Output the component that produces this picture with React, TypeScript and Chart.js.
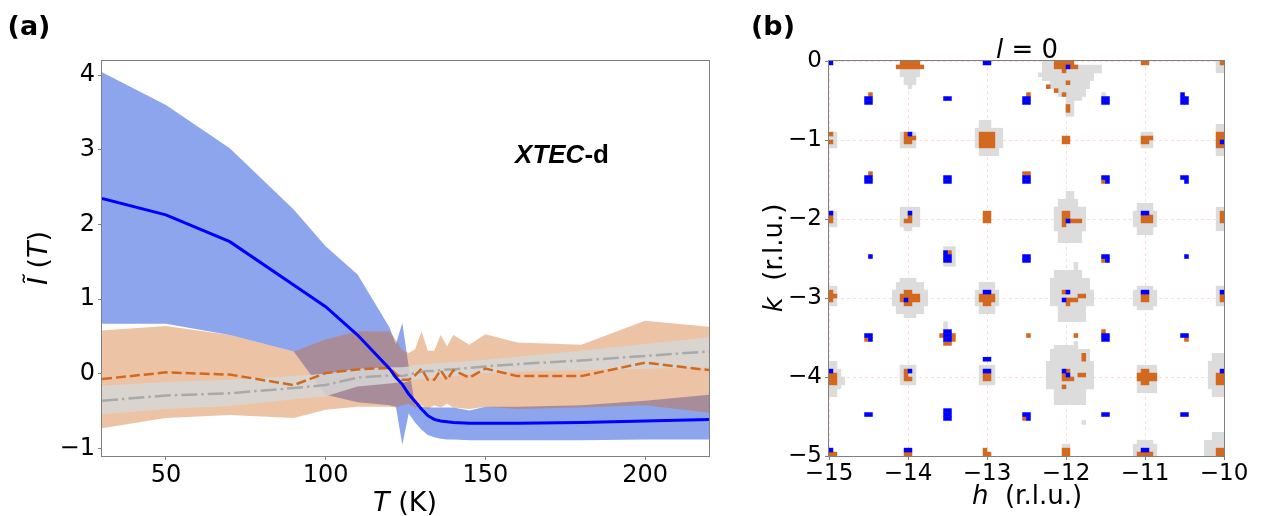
import React, { useEffect, useRef } from 'react';
import { Chart, registerables } from 'chart.js';

Chart.register(...registerables);

// ---------- Panel (a) data ----------
const T_K = [30, 50, 70, 90, 100, 110, 120, 122, 124, 126, 128, 130, 132, 134, 136, 138, 140, 145, 150, 160, 180, 200, 220];

const BLUE_MEAN = [2.35, 2.13, 1.77, 1.19, 0.9, 0.52, 0.07, -0.05, -0.14, -0.27, -0.37, -0.47, -0.56, -0.61, -0.63, -0.64, -0.65, -0.66, -0.66, -0.66, -0.65, -0.63, -0.61];
const BLUE_UPPER = [4.04, 3.6, 3.02, 2.2, 1.71, 1.33, 0.62, 0.4, 0.68, 0.1, -0.42, -0.44, -0.45, -0.45, -0.45, -0.45, -0.45, -0.49, -0.44, -0.44, -0.42, -0.36, -0.28];
const BLUE_LOWER = [0.67, 0.67, 0.52, 0.3, -0.28, -0.38, -0.42, -0.44, -0.95, -0.53, -0.65, -0.75, -0.82, -0.85, -0.87, -0.88, -0.88, -0.89, -0.89, -0.89, -0.89, -0.88, -0.88];

const ORANGE_MEAN = [-0.07, 0.02, -0.01, -0.15, 0.01, 0.06, 0.08, 0.0, -0.08, -0.08, -0.02, 0.07, -0.08, -0.08, 0.05, -0.08, 0.05, -0.05, 0.07, -0.03, -0.03, 0.15, 0.05];
const ORANGE_UPPER = [0.58, 0.64, 0.52, 0.3, 0.46, 0.57, 0.57, 0.45, 0.32, 0.28, 0.33, 0.57, 0.31, 0.31, 0.52, 0.37, 0.52, 0.39, 0.53, 0.42, 0.39, 0.71, 0.63];
const ORANGE_LOWER = [-0.73, -0.59, -0.55, -0.59, -0.48, -0.44, -0.44, -0.45, -0.42, -0.4, -0.45, -0.42, -0.47, -0.42, -0.45, -0.4, -0.45, -0.47, -0.44, -0.47, -0.45, -0.42, -0.52];

const GRAY_MEAN = [-0.36, -0.29, -0.26, -0.19, -0.15, -0.05, -0.02, -0.02, -0.03, -0.01, 0.01, 0.03, 0.04, 0.04, 0.05, 0.06, 0.06, 0.08, 0.1, 0.13, 0.18, 0.24, 0.3];
const GRAY_UPPER = [-0.16, -0.11, -0.08, -0.03, 0.0, 0.07, 0.09, 0.09, 0.09, 0.1, 0.12, 0.13, 0.13, 0.14, 0.15, 0.15, 0.16, 0.17, 0.19, 0.23, 0.31, 0.4, 0.49];
const GRAY_LOWER = [-0.54, -0.47, -0.43, -0.34, -0.3, -0.17, -0.13, -0.12, -0.12, -0.1, -0.08, -0.07, -0.06, -0.05, -0.04, -0.03, -0.03, -0.01, 0.01, 0.03, 0.05, 0.07, 0.09];

const X_TICKS_A = [50, 100, 150, 200];
const Y_TICKS_A = [-1, 0, 1, 2, 3, 4];

// ---------- Panel (b) data: cell blocks [h0, h1, kTop, kBottom] in r.l.u. ----------
const BLUE_CELLS = [
  [-15, -14.95, 0, -0.05], [-13.05, -12.95, 0, -0.05], [-12, -11.95, -0.05, -0.1],
  [-14.55, -14.45, -0.45, -0.55], [-13.55, -13.45, -0.45, -0.5], [-12.55, -12.45, -0.45, -0.55],
  [-11.55, -11.45, -0.45, -0.55], [-10.55, -10.5, -0.4, -0.55], [-10.5, -10.45, -0.45, -0.55],
  [-14, -13.95, -0.9, -0.95], [-10.05, -10, -1, -1.05],
  [-14.55, -14.45, -1.45, -1.55], [-13.55, -13.45, -1.45, -1.55], [-12.55, -12.45, -1.45, -1.55],
  [-11.55, -11.45, -1.45, -1.5], [-11.5, -11.45, -1.5, -1.55], [-10.55, -10.45, -1.45, -1.5], [-10.5, -10.45, -1.5, -1.55],
  [-15, -14.95, -1.9, -1.95], [-14, -13.95, -1.9, -1.95], [-12, -11.95, -2, -2.05], [-11.05, -10.95, -1.9, -1.95],
  [-14.5, -14.45, -2.45, -2.5], [-13.55, -13.5, -2.4, -2.45], [-13.55, -13.45, -2.45, -2.55],
  [-12.55, -12.45, -2.45, -2.55], [-11.55, -11.45, -2.45, -2.5], [-11.5, -11.45, -2.5, -2.55], [-10.5, -10.45, -2.45, -2.5],
  [-14.05, -14, -3, -3.05], [-13.05, -12.95, -2.9, -2.95], [-12, -11.95, -2.9, -2.95], [-12.05, -12, -3, -3.05],
  [-11.05, -10.95, -2.9, -2.95], [-10.05, -10, -2.9, -2.95],
  [-14.55, -14.45, -3.45, -3.5], [-14.5, -14.45, -3.5, -3.55], [-13.55, -13.45, -3.4, -3.55],
  [-11.55, -11.45, -3.45, -3.55], [-10.55, -10.45, -3.45, -3.5], [-13.05, -12.95, -3.75, -3.8],
  [-15, -14.95, -3.9, -3.95], [-14, -13.95, -3.9, -3.95], [-13.05, -12.95, -3.9, -3.95],
  [-12.05, -12, -3.9, -3.95], [-12, -11.95, -3.95, -4], [-10.05, -10, -3.9, -3.95],
  [-14.55, -14.45, -4.45, -4.5], [-13.55, -13.45, -4.4, -4.55], [-12.55, -12.45, -4.45, -4.5], [-12.5, -12.45, -4.5, -4.55],
  [-11.55, -11.45, -4.45, -4.5], [-10.55, -10.45, -4.45, -4.5],
  [-15, -14.95, -4.9, -4.95], [-14.05, -13.95, -4.9, -4.95], [-11.05, -10.95, -4.9, -4.95],
];

const ORANGE_CELLS = [
  [-14.1, -13.85, 0, -0.05], [-14.15, -13.8, -0.05, -0.1],
  [-12.15, -11.9, 0, -0.05], [-12.15, -12, -0.05, -0.1], [-11.95, -11.85, -0.05, -0.1], [-12.05, -12, -0.1, -0.15],
  [-12, -11.95, -0.25, -0.3], [-12.25, -12.2, -0.3, -0.35], [-12.15, -12.1, -0.35, -0.4], [-12.05, -12, -0.4, -0.45],
  [-12, -11.95, -0.55, -0.65], [-11.05, -10.95, 0, -0.05], [-10.05, -10, 0, -0.05],
  [-14.5, -14.45, -0.4, -0.45], [-12.5, -12.45, -0.4, -0.45],
  [-15, -14.95, -0.9, -0.95], [-15, -14.95, -1, -1.05],
  [-14.05, -14, -0.9, -0.95], [-14.05, -13.9, -0.95, -1], [-14.05, -13.95, -1, -1.05],
  [-13.1, -12.9, -0.9, -1.1], [-12.05, -11.95, -0.95, -1.05],
  [-11.05, -10.9, -0.95, -1], [-11.05, -10.95, -1, -1.05], [-10.1, -10, -0.9, -1.1],
  [-14.5, -14.45, -1.4, -1.45], [-12.55, -12.45, -1.4, -1.45], [-11.55, -11.5, -1.5, -1.55],
  [-15, -14.95, -1.95, -2.05], [-14, -13.95, -1.95, -2.05], [-14.05, -14, -2, -2.05],
  [-13.05, -12.95, -1.9, -2.05], [-12.05, -11.95, -1.9, -2.05], [-12.05, -12, -2.05, -2.1], [-11.95, -11.8, -2, -2.05],
  [-11.05, -10.9, -1.95, -2.05], [-10.05, -10, -1.9, -2.05],
  [-13.5, -13.45, -2.4, -2.45], [-11.55, -11.5, -2.5, -2.55],
  [-15, -14.95, -2.9, -3.05], [-14.95, -14.9, -2.95, -3],
  [-14.05, -13.95, -2.9, -2.95], [-14.1, -13.85, -2.95, -3.05], [-14.05, -13.95, -3.05, -3.1],
  [-13.1, -12.9, -2.95, -3.05], [-13.05, -12.95, -3.05, -3.1],
  [-12.05, -12, -2.9, -2.95], [-12, -11.85, -3, -3.05], [-11.85, -11.75, -2.95, -3], [-12, -11.95, -3.05, -3.1],
  [-11.05, -10.95, -2.95, -3.05], [-10.05, -10, -2.95, -3.05],
  [-14.55, -14.5, -3.5, -3.55], [-13.6, -13.55, -3.45, -3.5], [-13.45, -13.4, -3.45, -3.55], [-13.55, -13.45, -3.55, -3.6],
  [-12.5, -12.45, -3.45, -3.5], [-11.9, -11.85, -3.45, -3.5], [-11.55, -11.5, -3.4, -3.45], [-10.5, -10.45, -3.5, -3.55],
  [-11.8, -11.75, -3.7, -3.8],
  [-15, -14.9, -3.95, -4.1], [-14.05, -14, -3.9, -4.05], [-14, -13.95, -4, -4.05], [-13.05, -12.95, -3.95, -4.05],
  [-12, -11.95, -3.9, -3.95], [-12.05, -12, -3.95, -4], [-12.05, -11.9, -4, -4.05], [-11.85, -11.75, -3.95, -4], [-12.05, -12, -4.1, -4.15],
  [-11.1, -10.85, -3.95, -4.05], [-11.05, -10.95, -3.9, -4.1], [-10.1, -10, -3.95, -4.1],
  [-12.55, -12.5, -4.5, -4.55],
  [-15, -14.9, -4.95, -5], [-14.05, -13.95, -4.95, -5], [-13.05, -13, -4.9, -5], [-13, -12.95, -4.95, -5],
  [-12.05, -11.95, -4.9, -5], [-11.1, -10.9, -4.95, -5], [-10.1, -10, -4.9, -5],
];

const GRAY_CELLS = [
  [-14.1, -13.85, -0.1, -0.2], [-14.05, -13.9, -0.2, -0.3], [-14, -13.95, -0.3, -0.35],
  [-12.3, -12.15, 0, -0.05], [-12.3, -11.55, -0.05, -0.15], [-12.35, -11.65, -0.15, -0.2], [-12.3, -11.65, -0.2, -0.25],
  [-12.2, -11.7, -0.25, -0.35], [-12.1, -11.75, -0.35, -0.45], [-12, -11.8, -0.45, -0.5], [-12, -11.9, -0.5, -0.7],
  [-10.1, -10, 0, -0.15], [-11.55, -11.5, -0.4, -0.45],
  [-15, -14.9, -0.9, -1.1], [-14.1, -13.9, -0.9, -1.1],
  [-13.1, -12.95, -0.75, -0.85], [-13.15, -12.8, -0.85, -1.1], [-13.1, -12.85, -1.1, -1.2],
  [-11.05, -10.9, -0.9, -1.1], [-10.1, -10, -0.8, -1.2],
  [-15, -14.9, -1.9, -2.1], [-14.1, -13.85, -1.85, -2.1], [-14.05, -13.95, -2.1, -2.15],
  [-12, -11.9, -1.65, -1.75], [-12.1, -11.85, -1.75, -1.85], [-12.15, -11.75, -1.85, -2.15], [-12.1, -11.8, -2.15, -2.3],
  [-11.1, -10.9, -1.8, -1.9], [-11.15, -10.85, -1.9, -2.1], [-11.1, -10.9, -2.1, -2.2],
  [-10.1, -10, -1.85, -2.15], [-13.55, -13.4, -2.35, -2.6],
  [-15, -14.9, -2.85, -3.1],
  [-14.1, -13.9, -2.75, -2.8], [-14.15, -13.8, -2.8, -2.9], [-14.2, -13.75, -2.9, -3.1], [-14.15, -13.8, -3.1, -3.2], [-14.05, -13.9, -3.2, -3.25],
  [-13.1, -12.9, -2.8, -2.9], [-13.15, -12.85, -2.9, -3.1], [-13.1, -12.9, -3.1, -3.2],
  [-11.9, -11.85, -2.55, -2.65], [-12.15, -11.8, -2.65, -2.75], [-12.2, -11.7, -2.75, -2.9], [-12.2, -11.65, -2.9, -3.1], [-12.1, -11.75, -3.1, -3.3],
  [-11.1, -10.9, -2.85, -2.9], [-11.15, -10.85, -2.9, -3.1], [-11.1, -10.9, -3.1, -3.15],
  [-10.1, -10, -2.85, -3.1], [-13.55, -13.5, -3.3, -3.4],
  [-15, -14.9, -3.8, -4.25], [-14.9, -14.85, -3.9, -4.15], [-14.85, -14.8, -4, -4.1],
  [-14.1, -13.9, -3.85, -4.1], [-13.1, -12.9, -3.85, -4.1],
  [-11.9, -11.85, -3.55, -3.6], [-12.15, -11.85, -3.6, -3.65], [-12.2, -11.7, -3.65, -3.8], [-12.25, -11.65, -3.8, -4.15], [-12.15, -11.75, -4.15, -4.35],
  [-11.1, -10.85, -3.85, -4.2],
  [-10.15, -10, -3.7, -3.8], [-10.2, -10, -3.8, -4.15], [-10.15, -10, -4.15, -4.25],
  [-11.8, -11.75, -4.55, -4.6], [-12.05, -11.95, -4.85, -4.9],
  [-11.1, -10.9, -4.8, -4.85], [-11.15, -10.85, -4.85, -5],
  [-10.15, -10, -4.7, -4.8], [-10.25, -10, -4.8, -5],
];

const X_TICKS_B = [-15, -14, -13, -12, -11, -10];
const Y_TICKS_B = [-5, -4, -3, -2, -1, 0];

const CELL = 0.05;
const FONT = '"DejaVu Sans", sans-serif';
const SPINE = '#808080';

function fmt(v: number) {
  return v < 0 ? '\u2212' + String(Math.abs(v)) : String(v);
}

function pts(ys: number[]) {
  return T_K.map((t, i) => ({ x: t, y: ys[i] }));
}

// one floating bar per cell row of each block
function rows(blocks: number[][]) {
  const out: { x: number[]; y: number }[] = [];
  for (const [h0, h1, k0, k1] of blocks) {
    const n = Math.round((k0 - k1) / CELL);
    for (let i = 0; i < n; i++) {
      out.push({ x: [h0, h1], y: Math.round((k0 - CELL / 2 - CELL * i) * 1000) / 1000 });
    }
  }
  return out;
}

const framePlugin = {
  id: 'frame',
  afterDatasetsDraw(chart: any) {
    const { ctx, chartArea: a } = chart;
    ctx.save();
    ctx.strokeStyle = SPINE;
    ctx.lineWidth = 1;
    ctx.setLineDash([]);
    ctx.strokeRect(a.left - 0.5, a.top - 0.5, a.right - a.left + 1, a.bottom - a.top + 1);
    ctx.restore();
  },
};

const Label = ({ x, y, size, rotate, bold, family, children }: any) => (
  <div
    style={{
      position: 'absolute',
      left: x,
      top: y,
      transform: `translate(-50%, -50%)${rotate ? ' rotate(-90deg)' : ''}`,
      fontFamily: family || FONT,
      fontSize: size,
      fontWeight: bold ? 'bold' : 'normal',
      lineHeight: 1,
      whiteSpace: 'pre',
      color: '#000',
    }}
  >
    {children}
  </div>
);

export default function App() {
  const refA = useRef<HTMLCanvasElement>(null);
  const refB = useRef<HTMLCanvasElement>(null);

  useEffect(() => {
    const band = (ys: number[], color: string, target: number, order: number) => ({
      data: pts(ys),
      borderColor: 'rgba(0,0,0,0)',
      borderWidth: 0,
      backgroundColor: color,
      pointRadius: 0,
      fill: target,
      order,
    });
    const edge = (ys: number[], order: number) => ({
      data: pts(ys),
      borderColor: 'rgba(0,0,0,0)',
      borderWidth: 0,
      pointRadius: 0,
      fill: false,
      order,
    });

    const chartA = new Chart(refA.current as HTMLCanvasElement, {
      type: 'line',
      data: {
        datasets: [
          band(BLUE_UPPER, 'rgba(65,105,225,0.6)', 1, 10) as any,
          edge(BLUE_LOWER, 10),
          band(ORANGE_UPPER, 'rgba(210,105,30,0.4)', 3, 9),
          edge(ORANGE_LOWER, 9),
          band(GRAY_UPPER, 'rgba(215,215,215,0.85)', 5, 8),
          edge(GRAY_LOWER, 8),
          { data: pts(GRAY_MEAN), borderColor: '#a9a9a9', borderWidth: 2.5, borderDash: [16, 4, 2.5, 4], pointRadius: 0, fill: false, order: 3 },
          { data: pts(ORANGE_MEAN), borderColor: '#d2691e', borderWidth: 2.5, borderDash: [10, 4], pointRadius: 0, fill: false, order: 2 },
          { data: pts(BLUE_MEAN), borderColor: '#0000ff', borderWidth: 3, pointRadius: 0, fill: false, order: 1 },
        ],
      },
      options: {
        responsive: false,
        animation: false,
        devicePixelRatio: 1,
        layout: { padding: { top: 61, right: 21, left: 0, bottom: 0 } },
        elements: { line: { tension: 0 } },
        plugins: { legend: { display: false }, tooltip: { enabled: false } },
        scales: {
          x: {
            type: 'linear',
            min: 30,
            max: 220,
            afterBuildTicks: (s: any) => { s.ticks = X_TICKS_A.map((v) => ({ value: v })); },
            afterFit: (s: any) => { s.height = 60; },
            grid: { drawOnChartArea: false, drawTicks: true, tickLength: 4, color: SPINE },
            border: { display: false },
            ticks: { color: '#000', font: { family: FONT, size: 24 }, padding: 1, maxRotation: 0, autoSkip: false, callback: (v: any) => fmt(Number(v)) },
          },
          y: {
            type: 'linear',
            min: -1.1,
            max: 4.19,
            afterBuildTicks: (s: any) => { s.ticks = Y_TICKS_A.map((v) => ({ value: v })); },
            afterFit: (s: any) => { s.width = 102; },
            grid: { drawOnChartArea: false, drawTicks: true, tickLength: 4, color: SPINE },
            border: { display: false },
            ticks: { color: '#000', font: { family: FONT, size: 24 }, padding: 3, autoSkip: false, callback: (v: any) => fmt(Number(v)) },
          },
        },
      } as any,
      plugins: [framePlugin],
    });

    const barCommon = {
      grouped: false,
      barPercentage: 1,
      categoryPercentage: 1,
      borderWidth: 0,
      borderSkipped: false,
      inflateAmount: 0.3,
    };

    const chartB = new Chart(refB.current as HTMLCanvasElement, {
      type: 'bar',
      data: {
        datasets: [
          { data: rows(GRAY_CELLS), backgroundColor: '#dcdcdc', order: 3, ...barCommon } as any,
          { data: rows(ORANGE_CELLS), backgroundColor: '#d2691e', order: 2, ...barCommon },
          { data: rows(BLUE_CELLS), backgroundColor: '#0000ff', order: 1, ...barCommon },
        ],
      },
      options: {
        indexAxis: 'y',
        responsive: false,
        animation: false,
        devicePixelRatio: 1,
        layout: { padding: { top: 61, right: 38, left: 0, bottom: 0 } },
        plugins: { legend: { display: false }, tooltip: { enabled: false } },
        scales: {
          x: {
            type: 'linear',
            min: -15,
            max: -10,
            beginAtZero: false,
            afterBuildTicks: (s: any) => { s.ticks = X_TICKS_B.map((v) => ({ value: v })); },
            afterFit: (s: any) => { s.height = 60; },
            grid: { drawOnChartArea: true, drawTicks: true, tickLength: 4, color: 'rgba(255,140,140,0.3)', tickColor: SPINE, lineWidth: 1 },
            border: { display: false, dash: [3, 3] },
            ticks: { color: '#000', font: { family: FONT, size: 23 }, padding: 0, maxRotation: 0, autoSkip: false, callback: (v: any) => fmt(Number(v)) },
          },
          y: {
            type: 'linear',
            min: -5,
            max: 0,
            offset: false,
            afterBuildTicks: (s: any) => { s.ticks = Y_TICKS_B.map((v) => ({ value: v })); },
            afterFit: (s: any) => { s.width = 99; },
            grid: { offset: false, drawOnChartArea: true, drawTicks: true, tickLength: 4, color: 'rgba(255,140,140,0.3)', tickColor: SPINE, lineWidth: 1 },
            border: { display: false, dash: [3, 3] },
            ticks: { color: '#000', font: { family: FONT, size: 23 }, padding: 3, autoSkip: false, callback: (v: any) => fmt(Number(v)) },
          },
        },
      } as any,
      plugins: [framePlugin],
    });

    return () => {
      chartA.destroy();
      chartB.destroy();
    };
  }, []);

  return (
    <div style={{ position: 'fixed', left: 0, top: 0, width: 1262, height: 516, background: '#fff', overflow: 'hidden' }}>
      <canvas ref={refA} width={730} height={516} style={{ position: 'absolute', left: 0, top: 0, width: 730, height: 516 }} />
      <canvas ref={refB} width={532} height={516} style={{ position: 'absolute', left: 730, top: 0, width: 532, height: 516 }} />
      <Label x={29} y={25} size={27} bold>(a)</Label>
      <Label x={773} y={25} size={27} bold>(b)</Label>
      <Label x={562} y={154} size={26} bold family={'"Liberation Sans", Arial, sans-serif'}>
        <i>XTEC</i>-d
      </Label>
      <Label x={37} y={258} size={27} rotate>
        <i>Ĩ</i> (<i>T</i>)
      </Label>
      <Label x={405} y={501} size={27}>
        <i>T</i> (K)
      </Label>
      <Label x={1027} y={49} size={26}>
        <i>l</i> = 0
      </Label>
      <Label x={1027} y={495} size={26}>
        <i>h</i>{'  (r.l.u.)'}
      </Label>
      <Label x={773} y={258} size={26} rotate>
        <i>k</i>{'  (r.l.u.)'}
      </Label>
    </div>
  );
}
